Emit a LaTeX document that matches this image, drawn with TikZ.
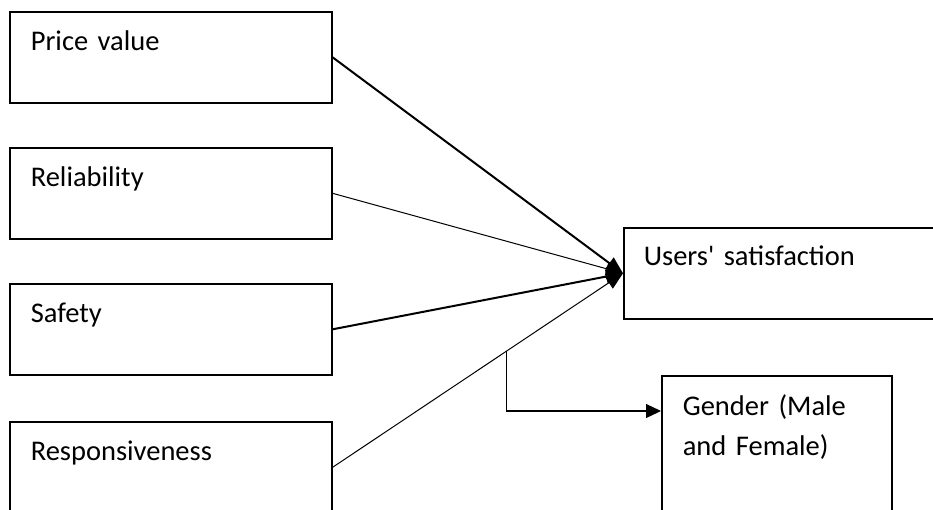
\documentclass[tikz,border=0pt]{standalone}
\usepackage{fontspec}
\setmainfont{Carlito}
\usetikzlibrary{arrows.meta}

\tikzset{
  factor/.style={draw, line width=1.6pt, anchor=north west, inner xsep=21pt,
    inner ysep=0pt, text width=280pt, align=left, text height=39pt, text depth=52pt},
  link/.style={-{Triangle[length=17pt, width=14pt]}},
}

\begin{document}
\begin{tikzpicture}[x=1pt, y=-1pt, font=\fontsize{28.5}{40}\selectfont]
\useasboundingbox (0,0) rectangle (933,509);

% predictors on the left
\node[factor] (price) at (9,11) {Price value};
\node[factor] (reliab) at (9,147) {Reliability};
\node[factor] (safety) at (9,283) {Safety};
\node[factor] (respons) at (9,421) {Responsiveness};

% outcome and moderator
\node[factor, inner xsep=20pt, text height=38pt, text depth=53pt]
  (satisf) at (623,227) {Users\textquotesingle\ satisfaction};
\node[factor, text width=188pt, text height=40pt, text depth=100pt]
  (gender) at (661,375) {Gender (Male\\and Female)};

\draw[link, line width=2pt] (price.east) -- (satisf.west);
\draw[link, line width=1pt] (reliab.east) -- (satisf.west);
\draw[link, line width=2pt] (safety.east) -- (satisf.west);
\draw[link, line width=1pt] (respons.east) -- coordinate[pos=0.6] (split) (satisf.west);

\draw[-{Triangle[length=15pt, width=14pt]}, line width=1.2pt]
  (split) |- ([yshift=-36pt]gender.north west);
\end{tikzpicture}
\end{document}
